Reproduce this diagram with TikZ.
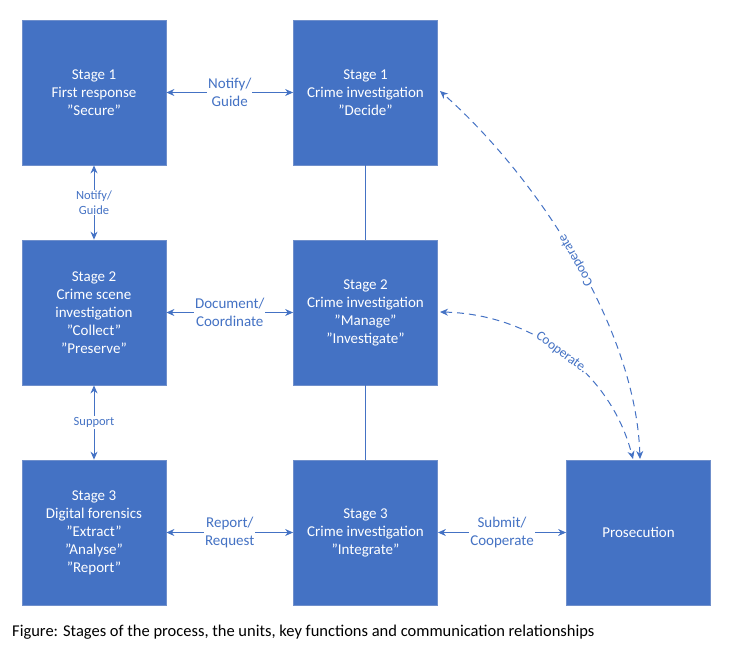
\documentclass[tikz,border=0pt]{standalone}
\usepackage{fontspec}
\setmainfont{Carlito}
\usetikzlibrary{arrows.meta}
\definecolor{boxb}{HTML}{4472C4}
\definecolor{edgeb}{HTML}{6F8FCB}
\begin{document}
\begin{tikzpicture}[x=1pt,y=-1pt,
  stagebox/.style={draw=edgeb,fill=boxb,line width=0.8pt,minimum width=144pt,minimum height=145pt,text=white,align=center,font=\fontsize{15}{18}\selectfont,inner sep=0pt},
  conn/.style={draw=boxb,line width=1pt,{Stealth[length=8pt,width=7pt]}-{Stealth[length=8pt,width=7pt]}},
  lbl/.style={fill=white,text=boxb,align=center,font=\fontsize{15}{18}\selectfont,inner sep=1pt},
  slbl/.style={fill=white,text=boxb,align=center,font=\fontsize{12.5}{14.5}\selectfont,inner sep=1pt},
  clbl/.style={fill=white,text=boxb,font=\fontsize{13.5}{15}\selectfont,inner sep=1pt}]
\useasboundingbox (0,0) rectangle (736,646);
\node[stagebox] (a1) at (94,92.5) {Stage 1\\First response\\”Secure”};
\node[stagebox] (b1) at (365.5,92.5) {Stage 1\\Crime investigation\\”Decide”};
\node[stagebox] (a2) at (94,312.5) {Stage 2\\Crime scene\\investigation\\”Collect”\\”Preserve”};
\node[stagebox] (b2) at (365.5,312.5) {Stage 2\\Crime investigation\\”Manage”\\”Investigate”};
\node[stagebox] (a3) at (94,532.5) {Stage 3\\Digital forensics\\”Extract”\\”Analyse”\\”Report”};
\node[stagebox] (b3) at (365.5,532.5) {Stage 3\\Crime investigation\\”Integrate”};
\node[stagebox] (p) at (638.5,532.5) {Prosecution};
\draw[conn] (a1) -- node[lbl]{Notify/\\Guide} (b1);
\draw[conn] (a2) -- node[lbl]{Document/\\Coordinate} (b2);
\draw[conn] (a3) -- node[lbl]{Report/\\Request} (b3);
\draw[conn] (b3) -- node[lbl]{Submit/\\Cooperate} (p);
\draw[conn] (a1) -- node[slbl]{Notify/\\Guide} (a2);
\draw[conn] (a2) -- node[slbl]{Support} (a3);
\draw[boxb,line width=1pt] (b1) -- (b2);
\draw[boxb,line width=1pt] (b2) -- (b3);
\coordinate (pt1) at (640,459);
\coordinate (pt2) at (633,459);
\coordinate (e1) at (440,91);
\coordinate (e2) at (440,312);
\draw[conn,dashed,dash pattern=on 7pt off 5pt] (pt1) .. controls (636,330) and (540,180) .. node[pos=0.5,sloped,allow upside down,clbl]{Cooperate} (e1);
\draw[conn,dashed,dash pattern=on 7pt off 5pt] (e2) .. controls (530,314) and (610,370) .. node[pos=0.5,sloped,clbl]{Cooperate.} (pt2);
\node[anchor=west,font=\fontsize{16.5}{19}\selectfont,inner sep=0pt] (cap) at (12,632) {Figure: Stages of the process, the units, key functions and communication relationships};
\end{tikzpicture}
\end{document}
